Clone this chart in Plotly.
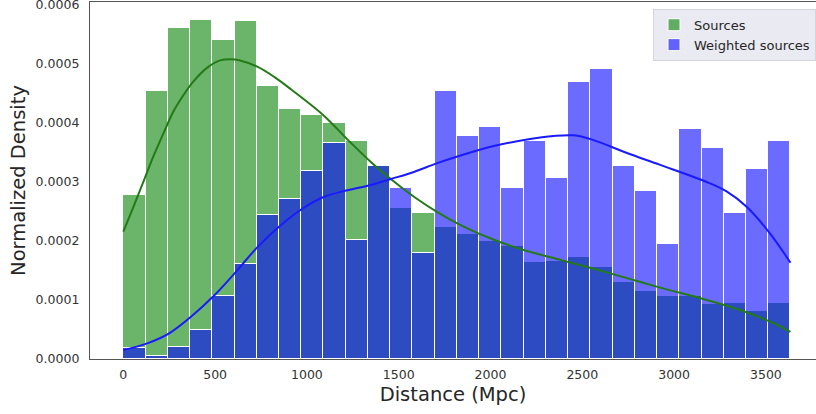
import numpy as np
import plotly.graph_objects as go

# ---- data ----
DIST_MIN = 0.0
DIST_MAX = 3634.0
N_BINS = 30

sources_density = [
    0.000278, 0.000455, 0.000561, 0.000575, 0.000541, 0.000572, 0.000463, 0.000423,
    0.000414, 0.000400, 0.000369, 0.000327, 0.000256, 0.000247, 0.000224, 0.000211,
    0.000200, 0.000192, 0.000164, 0.000166, 0.000173, 0.000156, 0.000131, 0.000116,
    0.000107, 0.000106, 0.000094, 0.000095, 0.000082, 0.000095,
]
weighted_density = [
    0.000018, 0.000005, 0.000021, 0.000049, 0.000107, 0.000161, 0.000244, 0.000272,
    0.000319, 0.000366, 0.000201, 0.000327, 0.000289, 0.000180, 0.000454, 0.000378,
    0.000394, 0.000289, 0.000369, 0.000307, 0.000469, 0.000492, 0.000327, 0.000285,
    0.000195, 0.000390, 0.000358, 0.000247, 0.000322, 0.000369,
]

kde_sources_x = [0, 55, 109, 163, 218, 272, 327, 381, 454, 527, 581, 636, 732, 822,
                 913, 1094, 1221, 1348, 1457, 1583, 1710, 1837, 2018, 2199, 2380,
                 2562, 2743, 2924, 3178, 3359, 3540, 3634]
kde_sources_y = [0.000216, 0.000258, 0.000300, 0.000343, 0.000382, 0.000419, 0.000447,
                 0.000470, 0.000493, 0.000506, 0.000508, 0.000506, 0.000495, 0.000478,
                 0.000457, 0.000412, 0.000372, 0.000334, 0.000305, 0.000275, 0.000249,
                 0.000227, 0.000202, 0.000183, 0.000168, 0.000153, 0.000137, 0.000121,
                 0.000100, 0.000083, 0.000061, 0.000046]

kde_weighted_x = [0, 134, 252, 370, 496, 614, 732, 859, 977, 1094, 1221, 1348, 1457,
                  1583, 1710, 1837, 2018, 2199, 2344, 2453, 2562, 2743, 2924, 3178,
                  3286, 3395, 3522, 3634]
kde_weighted_y = [0.000015, 0.000027, 0.000044, 0.000072, 0.000108, 0.000148, 0.000190,
                  0.000227, 0.000255, 0.000275, 0.000286, 0.000295, 0.000305, 0.000317,
                  0.000332, 0.000345, 0.000361, 0.000372, 0.000378, 0.000379, 0.000371,
                  0.000349, 0.000329, 0.000300, 0.000284, 0.000258, 0.000213, 0.000163]

x_ticks = [0, 500, 1000, 1500, 2000, 2500, 3000, 3500]
y_ticks = [0.0, 0.0001, 0.0002, 0.0003, 0.0004, 0.0005, 0.0006]

# ---- build figure ----
edges = np.linspace(DIST_MIN, DIST_MAX, N_BINS + 1)
centers = (edges[:-1] + edges[1:]) / 2
width = edges[1] - edges[0]

fig = go.Figure()
fig.add_trace(go.Bar(
    x=centers, y=sources_density, width=width, name="Sources",
    marker=dict(color="rgba(0,128,0,0.58)", line=dict(color="white", width=1)),
))
fig.add_trace(go.Bar(
    x=centers, y=weighted_density, width=width, name="Weighted sources",
    marker=dict(color="rgba(0,0,255,0.58)", line=dict(color="white", width=1)),
))
fig.add_trace(go.Scatter(
    x=kde_sources_x, y=kde_sources_y, mode="lines", line_shape="spline",
    line=dict(color="#237a16", width=2), showlegend=False,
))
fig.add_trace(go.Scatter(
    x=kde_weighted_x, y=kde_weighted_y, mode="lines", line_shape="spline",
    line=dict(color="#1a1aff", width=2), showlegend=False,
))

TXT = "#262626"
fig.update_layout(
    width=816, height=414,
    margin=dict(l=90, r=0, t=2, b=55, autoexpand=False),
    barmode="overlay", bargap=0,
    plot_bgcolor="white", paper_bgcolor="white",
    font=dict(family="DejaVu Sans", color=TXT, size=12),
    legend=dict(
        x=0.7755, xanchor="left", y=0.981, yanchor="top",
        bgcolor="#eaeaf2", bordercolor="#d4d4dc", borderwidth=1,
        font=dict(size=13, color=TXT),
        tracegroupgap=0, itemwidth=30,
    ),
    xaxis=dict(
        range=[-181.5, 3773], tickvals=x_ticks, ticktext=[str(v) for v in x_ticks],
        showgrid=False, zeroline=False, showline=True, linecolor="#555555",
        linewidth=1.3, mirror=True, ticks="outside", ticklen=4,
        tickcolor="rgba(0,0,0,0)", automargin=False, ticklabeloverflow="allow",
        title=dict(text="Distance (Mpc)", font=dict(size=19.5, color=TXT), standoff=6),
        tickfont=dict(size=12.5, color="#333333"),
    ),
    yaxis=dict(
        range=[0, 0.000605], tickvals=y_ticks, ticktext=[f"{v:.4f}" for v in y_ticks],
        showgrid=False, zeroline=False, showline=True, linecolor="#555555",
        linewidth=1.3, ticks="outside", ticklen=7,
        tickcolor="rgba(0,0,0,0)", automargin=False, ticklabeloverflow="allow",
        title=dict(text="Normalized Density", font=dict(size=19.5, color=TXT), standoff=4),
        tickfont=dict(size=12.5, color="#333333"),
    ),
)

fig.write_html(
    "out.html",
    config={"displayModeBar": False},
    post_script="document.body.style.margin='0';document.body.style.overflow='hidden';",
)
